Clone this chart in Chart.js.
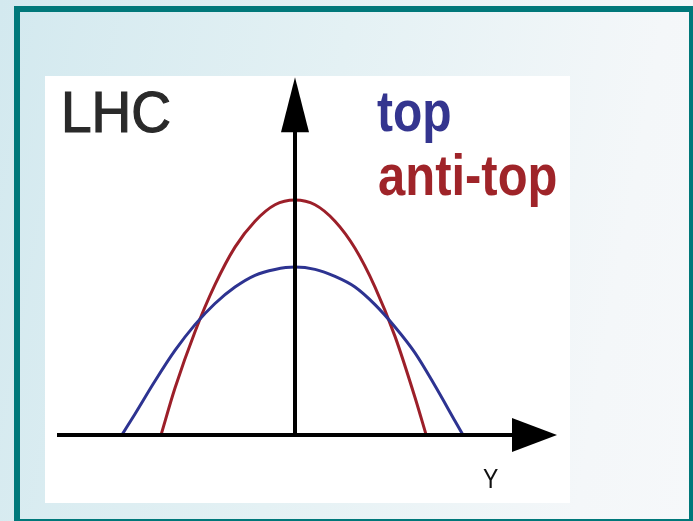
<!DOCTYPE html>
<html>
<head>
<meta charset="utf-8">
<script src="https://cdn.jsdelivr.net/npm/chart.js@4/dist/chart.umd.min.js"></script>
<style>
  html, body { margin:0; padding:0; width:693px; height:521px; overflow:hidden; }
  body { background: linear-gradient(100deg, #d3e9ef 0%, #e4f1f4 45%, #f4f7f9 85%, #f6f8fa 100%); position:relative; font-family:"Liberation Sans", Arial, sans-serif; }
  #frame { position:absolute; left:14px; top:6px; width:681px; height:519px; box-sizing:border-box; border:6px solid #00787a; }
  #panel { position:absolute; left:45px; top:76px; width:525px; height:427px; background:#ffffff; }
  #c { position:absolute; left:45px; top:76px; }
  .lbl { position:absolute; line-height:1; white-space:nowrap; transform-origin:0 0.8465em; }
</style>
</head>
<body>
<div id="frame"></div>
<div id="panel"></div>
<canvas id="c" width="525" height="427"></canvas>
<div class="lbl" style="left:61px; top:86.4px; font-size:55px; color:#2a2a2a; -webkit-text-stroke:1.2px #2a2a2a; transform:scaleY(1.04);">LHC</div>
<div class="lbl" style="left:377px; top:91.4px; font-size:48px; font-weight:bold; color:#34358f; transform:scaleY(1.2);">top</div>
<div class="lbl" style="left:378px; top:155.4px; font-size:48px; font-weight:bold; color:#9f2429; transform:scaleX(1.02) scaleY(1.2);">anti-top</div>
<div class="lbl" style="left:483px; top:468.5px; font-size:23px; color:#111; transform:scaleY(1.2);">Y</div>
<script>
// Rapidity (Y) sample positions and distribution heights
const rapidityTop = [-4.33, -4, -3.5, -3, -2.5, -2, -1.5, -1, -0.5, 0, 0.5, 1, 1.5, 2, 2.5, 3, 3.5, 4, 4.2];
const topValues   = [0, 0.09, 0.23, 0.36, 0.47, 0.56, 0.63, 0.68, 0.705, 0.715, 0.705, 0.675, 0.63, 0.555, 0.46, 0.35, 0.21, 0.06, 0];
const rapidityAntiTop = [-3.35, -3, -2.5, -2, -1.5, -1, -0.5, 0, 0.5, 1, 1.5, 2, 2.5, 3, 3.28];
const antiTopValues   = [0, 0.2, 0.44, 0.64, 0.8, 0.91, 0.98, 1.0, 0.98, 0.91, 0.795, 0.63, 0.42, 0.16, 0];
// Axis extents (data units)
const xAxisRange = [-5.95, 6.55];
const yAxisTop = 1.523;

const toPts = (xs, ys) => xs.map((x, i) => ({ x: x, y: ys[i] }));

const axesPlugin = {
  id: 'arrowAxes',
  afterDatasetsDraw(chart) {
    const ctx = chart.ctx, xs = chart.scales.x, ys = chart.scales.y;
    const x0 = xs.getPixelForValue(0), y0 = ys.getPixelForValue(0);
    const xl = xs.getPixelForValue(xAxisRange[0]), xr = xs.getPixelForValue(xAxisRange[1]);
    const yt = ys.getPixelForValue(yAxisTop);
    ctx.save();
    ctx.strokeStyle = '#000'; ctx.fillStyle = '#000'; ctx.lineWidth = 4;
    // horizontal axis
    ctx.beginPath(); ctx.moveTo(xl, y0); ctx.lineTo(xr - 40, y0); ctx.stroke();
    ctx.beginPath(); ctx.moveTo(xr, y0); ctx.lineTo(xr - 45, y0 - 17); ctx.lineTo(xr - 45, y0 + 17); ctx.closePath(); ctx.fill();
    // vertical axis
    ctx.beginPath(); ctx.moveTo(x0, y0 + 2); ctx.lineTo(x0, yt + 50); ctx.stroke();
    ctx.beginPath(); ctx.moveTo(x0, yt); ctx.lineTo(x0 - 14, yt + 55); ctx.lineTo(x0 + 14, yt + 55); ctx.closePath(); ctx.fill();
    ctx.restore();
  }
};

new Chart(document.getElementById('c'), {
  type: 'line',
  data: {
    datasets: [
      { label: 'top', data: toPts(rapidityTop, topValues), borderColor: '#2d3391', borderWidth: 3, pointRadius: 0, tension: 0.4, cubicInterpolationMode: 'monotone', fill: false },
      { label: 'anti-top', data: toPts(rapidityAntiTop, antiTopValues), borderColor: '#9c1f29', borderWidth: 3, pointRadius: 0, tension: 0.4, cubicInterpolationMode: 'monotone', fill: false }
    ]
  },
  options: {
    responsive: false,
    animation: false,
    devicePixelRatio: 1,
    layout: { padding: 0 },
    scales: {
      x: { type: 'linear', min: -6.25, max: 6.875, display: false },
      y: { type: 'linear', min: -0.289, max: 1.528, display: false }
    },
    plugins: { legend: { display: false }, tooltip: { enabled: false } }
  },
  plugins: [axesPlugin]
});
</script>
</body>
</html>
